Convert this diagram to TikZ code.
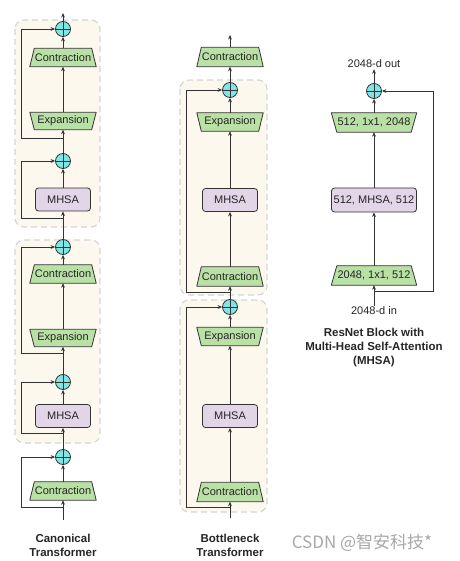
\documentclass[tikz,border=0pt]{standalone}
\usepackage{fontspec}
\setmainfont{Liberation Sans}
\newfontfamily\cjkfont{Noto Sans CJK SC}
\usetikzlibrary{arrows.meta}
\definecolor{grn}{HTML}{B9E0A5}
\definecolor{pur}{HTML}{E1D5E7}
\definecolor{cyn}{HTML}{7EE6E6}
\definecolor{crm}{HTML}{FDF8EE}
\definecolor{dsh}{HTML}{D6D6D6}
\definecolor{ln}{HTML}{333333}
\definecolor{wm}{HTML}{A8A8A8}
\pgfdeclarelayer{boxes}
\pgfdeclarelayer{shapes}
\pgfsetlayers{boxes,shapes,main}
\tikzset{
  arr/.style={draw=ln, line width=0.9pt, -{Stealth[length=4.5pt,width=3.8pt]}},
  txt/.style={font=\fontsize{11}{13}\selectfont, text=black!85},
  trapbase/.style={rectangle, minimum height=18pt, inner sep=0pt, txt},
  trapdraw/.style={draw=ln, line width=0.8pt, fill=grn, line join=round},
  mhsa/.style={rectangle, rounded corners=3pt, draw=ln, line width=0.8pt, fill=pur,
    minimum width=55pt, minimum height=23pt, inner sep=0pt, txt},
  plus/.style={circle, draw=ln, line width=0.8pt, fill=cyn, minimum size=15pt, inner sep=0pt,
    path picture={\draw[ln, line width=0.8pt] (path picture bounding box.north) -- (path picture bounding box.south)
      (path picture bounding box.west) -- (path picture bounding box.east);}},
  blockbox/.style={draw=dsh, line width=1.2pt, dash pattern=on 6pt off 4pt, fill=crm, rounded corners=9pt},
  title/.style={font=\bfseries\fontsize{11.5}{14}\selectfont, text=black!85, align=center},
}
% #1 name, #2 position, #3 text, #4 full width, #5 inset, #6 height
\newcommand{\mkcontr}[6]{%
  \node[trapbase, minimum width=#4pt, minimum height=#6pt] (#1) at (#2) {#3};
  \begin{pgfonlayer}{shapes}
  \draw[trapdraw] (#1.south west) -- (#1.south east) -- ([xshift=-#5pt]#1.north east) -- ([xshift=#5pt]#1.north west) -- cycle;
  \end{pgfonlayer}}
\newcommand{\mkexpan}[6]{%
  \node[trapbase, minimum width=#4pt, minimum height=#6pt] (#1) at (#2) {#3};
  \begin{pgfonlayer}{shapes}
  \draw[trapdraw] (#1.north west) -- (#1.north east) -- ([xshift=-#5pt]#1.south east) -- ([xshift=#5pt]#1.south west) -- cycle;
  \end{pgfonlayer}}
\begin{document}
\begin{tikzpicture}[x=1pt,y=-1pt]
\begin{pgfonlayer}{boxes}
\useasboundingbox[fill=white] (0,0) rectangle (459,561);
% ---------- dashed blocks ----------
\draw[blockbox] (15,20) rectangle (100,227);
\draw[blockbox] (15,240) rectangle (100,443);
\draw[blockbox] (180,80) rectangle (267,295);
\draw[blockbox] (180,300) rectangle (267,512);
\end{pgfonlayer}
% ---------- Canonical Transformer ----------
\coordinate (ctop) at (63,13);
\node[plus] (c1) at (63,29) {};
\mkcontr{ct1}{63,57.5}{Contraction}{66}{4.5}{18}
\mkexpan{ex1}{63,121}{Expansion}{66}{4.5}{17}
\node[plus] (p2) at (63,161) {};
\node[mhsa] (m1) at (63,199.5) {MHSA};
\node[plus] (p3) at (63,247) {};
\mkcontr{ct2}{63,274}{Contraction}{66}{4.5}{18}
\mkexpan{ex2}{63,338}{Expansion}{66}{4.5}{17}
\node[plus] (p4) at (63,382) {};
\node[mhsa] (m2) at (63,416) {MHSA};
\node[plus] (p5) at (63,457) {};
\mkcontr{ct3}{63,491}{Contraction}{66}{4.5}{18}
\coordinate (cbot) at (63,520);
\coordinate (s1) at (63,138);
\coordinate (s2) at (63,218);
\coordinate (s3) at (63,353);
\coordinate (s4) at (63,433);
\coordinate (s5) at (63,507);
\draw[arr] (cbot) -- (ct3);
\draw[arr] (ct3) -- (p5);
\draw[arr] (p5) -- (m2);
\draw[arr] (m2) -- (p4);
\draw[arr] (p4) -- (ex2);
\draw[arr] (ex2) -- (ct2);
\draw[arr] (ct2) -- (p3);
\draw[arr] (p3) -- (m1);
\draw[arr] (m1) -- (p2);
\draw[arr] (p2) -- (ex1);
\draw[arr] (ex1) -- (ct1);
\draw[arr] (ct1) -- (c1);
\draw[arr] (c1) -- (ctop);
\draw[arr] (s1) -- ++(-42,0) |- (c1);
\draw[arr] (s2) -- ++(-42,0) |- (p2);
\draw[arr] (s3) -- ++(-42,0) |- (p3);
\draw[arr] (s4) -- ++(-42,0) |- (p4);
\draw[arr] (s5) -- ++(-42,0) |- (p5);
\node[title] (tcan) at (63,545) {Canonical\\Transformer};
% ---------- Bottleneck Transformer ----------
\coordinate (btop) at (230,35);
\mkcontr{bct1}{230,57}{Contraction}{66}{4.5}{19}
\node[plus] (b1) at (230,90) {};
\mkexpan{bex1}{230,122}{Expansion}{66}{4.5}{18}
\node[mhsa] (bm1) at (230,200) {MHSA};
\mkcontr{bct2}{230,276.5}{Contraction}{66}{4.5}{19}
\node[plus] (b2) at (230,307) {};
\mkexpan{bex2}{230,336.5}{Expansion}{66}{4.5}{18}
\node[mhsa] (bm2) at (230,416) {MHSA};
\mkcontr{bct3}{230,492}{Contraction}{66}{4.5}{19}
\coordinate (bbot) at (230,518);
\coordinate (bs1) at (230,292);
\coordinate (bs2) at (230,507);
\draw[arr] (bbot) -- (bct3);
\draw[arr] (bct3) -- (bm2);
\draw[arr] (bm2) -- (bex2);
\draw[arr] (bex2) -- (b2);
\draw[arr] (b2) -- (bct2);
\draw[arr] (bct2) -- (bm1);
\draw[arr] (bm1) -- (bex1);
\draw[arr] (bex1) -- (b1);
\draw[arr] (b1) -- (bct1);
\draw[arr] (bct1) -- (btop);
\draw[arr] (bs1) -- ++(-44,0) |- (b1);
\draw[arr] (bs2) -- ++(-44,0) |- (b2);
\node[title] (tbot) at (230,545) {Bottleneck\\Transformer};
% ---------- ResNet block with MHSA ----------
\node[txt, inner sep=1pt] (lout) at (374,64) {2048-d out};
\node[plus] (r1) at (374,91) {};
\mkexpan{rex}{374,122.5}{512, 1x1, 2048}{85}{5.5}{19}
\node[mhsa, minimum width=85pt, minimum height=24pt] (rm) at (374,200) {512, MHSA, 512};
\mkcontr{rct}{374,275.5}{2048, 1x1, 512}{85}{5.5}{19}
\node[txt, inner sep=1pt] (lin) at (374,311) {2048-d in};
\coordinate (rs) at (374,291);
\draw[arr] (lin) -- (rct);
\draw[arr] (rct) -- (rm);
\draw[arr] (rm) -- (rex);
\draw[arr] (rex) -- (r1);
\draw[arr] (r1) -- (lout);
\draw[arr] (rs) -- ++(59,0) |- (r1);
\node[title] (tres) at (374,348) {ResNet Block with\\Multi-Head Self-Attention\\(MHSA)};
% ---------- watermark ----------
\node[text=wm, font=\cjkfont\fontsize{17}{19}\selectfont] (wmk) at (362,543) {CSDN @智安科技*};
\end{tikzpicture}
\end{document}
